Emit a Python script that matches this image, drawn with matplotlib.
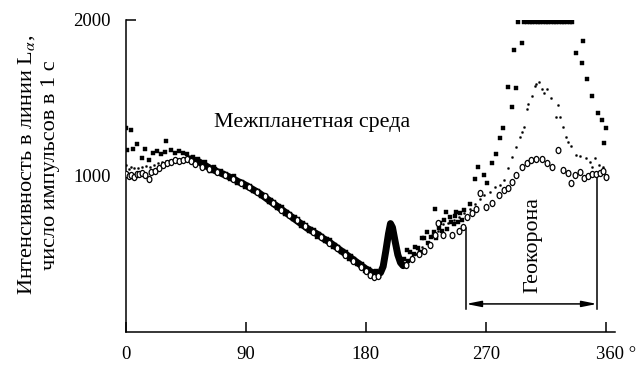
import matplotlib
matplotlib.use("Agg")
import matplotlib.pyplot as plt
from matplotlib.transforms import ScaledTranslation, Affine2D
from matplotlib.path import Path

plt.rcParams['font.family'] = ['Liberation Serif', 'DejaVu Serif']
plt.rcParams['mathtext.fontset'] = 'stix'

# ---- data ----
band_ang = [48, 52, 56, 60, 64, 68, 72, 76, 80, 84, 88, 92, 96, 100, 104, 108, 112, 116, 120,
            124, 128, 132, 136, 140, 144, 148, 152, 156, 160, 164, 168, 172, 176, 180, 184, 188,
            191, 193, 195, 197, 198.5, 200, 202, 204, 206, 208]
band_int = [1110, 1100, 1085, 1065, 1045, 1030, 1015, 1000, 985, 965, 950, 930, 910, 890, 865, 840,
            815, 790, 765, 740, 715, 690, 665, 645, 625, 600, 580, 555, 530, 505, 480, 455, 430,
            405, 385, 372, 380, 420, 520, 630, 695, 670, 580, 495, 445, 425]

extra_ang = [51, 54, 57, 59, 63, 66, 69, 71, 75, 78, 81, 83, 87, 89, 93, 95, 99, 101, 105, 107,
             111, 113, 117, 119, 123, 125, 129, 131, 135, 137, 141, 143, 147, 149, 153, 155, 159,
             161, 165, 167, 171, 173, 177, 179, 182, 185, 188, 190, 208, 209, 212, 213, 216, 219,
             221, 224, 227, 229, 231, 233, 236, 237, 239, 241, 243, 246, 247, 249, 251, 252]
extra_int = [1095, 1112, 1068, 1088, 1032, 1058, 1017, 1034, 1012, 982, 998, 957, 963, 932, 938,
             902, 904, 872, 874, 836, 834, 797, 799, 757, 758, 722, 724, 682, 684, 647, 653, 612,
             614, 582, 588, 542, 543, 512, 513, 467, 468, 437, 438, 392, 403, 362, 388, 358, 430,
             470, 455, 510, 500, 540, 515, 600, 570, 610, 640, 600, 700, 650, 715, 660, 740, 690,
             745, 705, 760, 720]

sq_ang = [0, 1, 4, 5, 8, 12, 14, 17, 20, 23, 26, 29, 30, 34, 37, 40, 43, 46, 50, 55, 61, 67, 73,
          79, 85, 91, 97, 103, 109, 115, 121, 127, 133, 139, 145, 151, 157, 163, 169, 175, 181,
          187, 206, 211, 217, 222, 226, 232, 235, 240, 244, 248, 254, 258, 262, 264, 269, 271,
          274.5, 278, 281, 283, 287, 289.5, 291, 293, 294, 297,
          299, 301, 303, 305, 307, 309, 311, 313, 315, 317, 319, 321, 323, 325, 327, 329, 331,
          333, 335, 337.5, 342, 343, 346, 350, 354, 357, 359, 360.5]
sq_int = [1310, 1165, 1295, 1170, 1205, 1115, 1170, 1105, 1150, 1160, 1140, 1155, 1225, 1165,
          1150, 1160, 1150, 1140, 1120, 1095, 1060, 1045, 1020, 995, 960, 945, 905, 880, 845,
          805, 770, 735, 700, 660, 630, 595, 560, 520, 485, 445, 405, 385, 460, 525, 545, 600,
          641, 788, 667, 769, 705, 770, 782, 820, 980, 1058, 1006, 955, 1083, 1141, 1243, 1308,
          1570, 1442, 1808, 1564, 1985, 1853,
          1990, 1990, 1990, 1990, 1990, 1990, 1990, 1990, 1990, 1990, 1990, 1990, 1990, 1990,
          1990, 1990, 1990, 1990, 1985, 1788, 1724, 1865, 1622, 1513, 1404, 1359, 1212, 1308]

dot_ang = [0, 2, 4, 6, 9, 12, 15, 18, 21, 24, 27, 30, 33, 36, 40, 44, 48, 53, 58, 64, 70, 76, 82,
           88, 94, 100, 106, 112, 118, 124, 130, 136, 142, 148, 154, 160, 166, 172, 178, 184,
           210, 214, 218, 222, 226, 230, 234, 238, 242, 246, 250, 254, 258, 262, 266, 269, 273,
           277, 280.5, 284, 286.5, 290, 293, 296, 297.5, 299, 301, 302, 305, 307, 308, 310, 312,
           314, 316, 319, 324, 323, 326, 328, 330, 332, 334, 338, 341, 345, 348, 350, 352, 355,
           358]
dot_int = [1070, 1045, 1060, 1050, 1052, 1055, 1062, 1058, 1070, 1082, 1088, 1096, 1100, 1108,
           1112, 1116, 1105, 1090, 1075, 1040, 1028, 995, 975, 950, 920, 895, 850, 820, 780,
           745, 705, 670, 640, 605, 565, 525, 490, 450, 420, 380, 440, 480, 500, 545, 580, 620,
           650, 690, 700, 720, 735, 760, 790, 820, 855, 878, 897, 929, 942, 974, 1051, 1120,
           1185, 1250, 1282, 1314, 1430, 1461, 1513, 1580, 1590, 1603, 1560, 1532, 1557, 1500,
           1455, 1378, 1378, 1314, 1250, 1218, 1192, 1135, 1128, 1115, 1090, 1058, 1115, 1070,
           1060]

circ_ang = [0, 2, 4, 6, 8, 10, 12, 14, 17, 19, 22, 25, 28, 31, 34, 37, 40, 43, 46, 49, 52, 57,
            62, 68, 74, 80, 86, 92, 98, 104, 110, 116, 122, 128, 134, 140, 146, 152, 158, 164,
            170, 176, 180, 183, 186, 189, 210, 215, 220, 224, 228, 232, 234, 238, 245, 250, 253,
            256, 260, 263, 266, 270, 275, 280, 284, 287, 290, 293, 297, 301, 304, 308, 312, 316,
            320, 324, 328, 332, 334, 337, 341, 344, 347, 350, 353, 356, 358, 360]
circ_int = [1010, 1000, 1005, 995, 1015, 1010, 1020, 1005, 980, 1025, 1035, 1050, 1070, 1085,
            1090, 1100, 1095, 1100, 1108, 1098, 1080, 1060, 1045, 1025, 1005, 980, 955, 930,
            900, 870, 825, 785, 750, 715, 680, 640, 610, 570, 540, 495, 455, 415, 390, 365,
            355, 360, 430, 470, 500, 520, 560, 620, 700, 620, 625, 650, 673, 737, 760, 790, 890,
            800, 830, 880, 910, 925, 960, 1005, 1055, 1083, 1100, 1112, 1108, 1085, 1058, 1165,
            1038, 1018, 955, 1005, 1025, 987, 1000, 1012, 1015, 1020, 1035, 995]

x_ticks = [0, 90, 180, 270, 360]
x_labels = ['0', '90', '180', '270', '360 °']
y_ticks = [1000, 2000]
y_labels = ['1000', '2000']

geo_start, geo_end = 255.2, 353.5

# ---- figure ----
fig = plt.figure(figsize=(6.43, 3.67), dpi=100)
ax = fig.add_axes([126/643, 1 - 332/367, 489/643, 312/367])

oval = Path.unit_circle().transformed(Affine2D().scale(0.78, 1.0))

ax.plot(band_ang, band_int, color='black', lw=5.0, solid_capstyle='round',
        solid_joinstyle='round', zorder=2)
ax.plot(extra_ang, extra_int, ls='none', marker='s', ms=3.0, mfc='black', mec='black', mew=0.3, zorder=3)
ax.plot(sq_ang, sq_int, ls='none', marker='s', ms=2.6, mfc='black', mec='black', mew=0.3, zorder=3)
ax.plot(dot_ang, dot_int, ls='none', marker='o', ms=1.6, mfc='black', mec='black', mew=0.2, zorder=3)
ax.plot(circ_ang, circ_int, ls='none', marker=oval, ms=4.4, mfc='white', mec='black', mew=0.9, zorder=4)

ax.set_xlim(0, 367)
ax.set_ylim(0, 2000)
ax.spines['top'].set_visible(False)
ax.spines['right'].set_visible(False)
for s in ('left', 'bottom'):
    ax.spines[s].set_linewidth(1.1)

ax.set_xticks(x_ticks)
ax.set_xticklabels(x_labels)
ax.set_yticks(y_ticks)
ax.set_yticklabels(y_labels)
ax.tick_params(axis='both', direction='in', length=7.5, width=1.1, labelsize=13.5)
ax.tick_params(axis='x', pad=10)
ax.tick_params(axis='y', pad=11)

lab = ax.get_xticklabels()[-1]
lab.set_transform(lab.get_transform() + ScaledTranslation(10/100, 0, fig.dpi_scale_trans))

fig.text(38/643, 1 - 165/367, 'Интенсивность в линии L$_\\alpha$,\nчисло импульсов в 1 с',
         rotation=90, ha='center', va='center', multialignment='center', fontsize=16,
         linespacing=1.3)

ax.text(139.6, 1345, 'Межпланетная среда', ha='center', va='center', fontsize=15.8)
ax.text(305.5, 560, 'Геокорона', rotation=90, ha='center', va='center', fontsize=15.8)

ax.plot([geo_start, geo_start], [147, 667], color='black', lw=1.1)
ax.plot([geo_end, geo_end], [147, 1006], color='black', lw=1.1)
ax.annotate('', xy=(geo_end, 180), xytext=(geo_start, 180),
            arrowprops=dict(arrowstyle='<|-|>,head_length=0.9,head_width=0.18',
                            color='black', lw=1.1, shrinkA=0, shrinkB=0))

fig.savefig('out.png', dpi=100)
